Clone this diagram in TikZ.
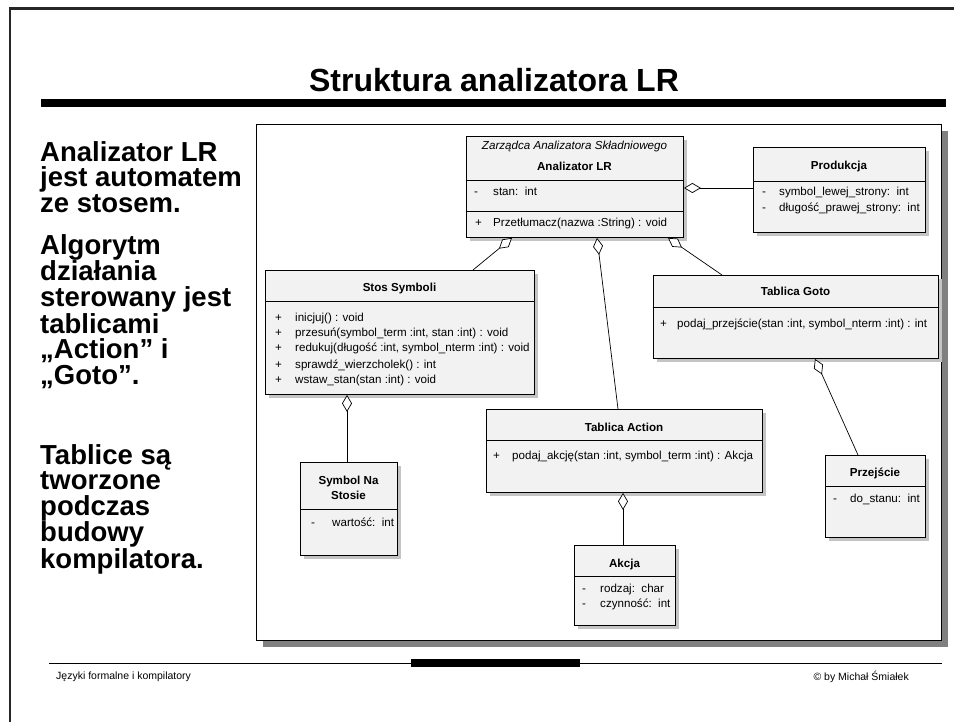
\documentclass[tikz,border=0pt]{standalone}
\usepackage{fontspec}
\setmainfont{Liberation Sans}
\usetikzlibrary{arrows.meta,shadows}
\definecolor{boxfill}{RGB}{242,242,242}
\definecolor{boxshade}{RGB}{196,196,196}
\definecolor{panelshade}{RGB}{128,128,128}
\newcommand\umlfont{\fontsize{11.6}{14}\selectfont}
\newcommand\slidefont{\fontsize{27.5}{25.5}\selectfont\bfseries}

\tikzset{
    umlbox/.style={draw, line width=0.9pt, fill=boxfill, anchor=north west, inner sep=0pt,
        drop shadow={shadow xshift=4pt, shadow yshift=-4pt, fill=boxshade, opacity=1}},
    umltitle/.style={font=\umlfont\bfseries, anchor=base, inner sep=0pt},
    umlitem/.style={font=\umlfont, anchor=base west, inner sep=0pt},
    umlline/.style={line width=0.8pt},
    agg/.style={{Diamond[length=17pt, width=10pt, fill=white]}-, line width=0.7pt},
    slidetext/.style={font=\slidefont, anchor=north west, align=left, inner sep=0pt}
}

\begin{document}
\begin{tikzpicture}[x=1pt, y=-1pt]
    \useasboundingbox (0,0) rectangle (954,722);

    % slide frame and rules
    \draw[line width=2.5pt, black!85] (10,722) -- (10,8.5) -- (954,8.5);
    \node[font=\fontsize{32}{36}\selectfont\bfseries, anchor=base, inner sep=0pt] (title) at (494,92) {Struktura analizatora LR};
    \fill (41,99) rectangle (946,107);
    \draw[line width=0.9pt] (49,663) -- (942,663);
    \fill (411,659) rectangle (580,667);
    \node[font=\fontsize{10.5}{12}\selectfont, anchor=west, inner sep=0pt] (footl) at (56,677) {Języki formalne i kompilatory};
    \node[font=\fontsize{10.5}{12}\selectfont, anchor=east, inner sep=0pt] (footr) at (909,677) {© by Michał Śmiałek};

    % left column
    \node[slidetext] (para1) at (40,141) {Analizator LR\\jest automatem\\ze stosem.};
    \node[slidetext] (para2) at (40,234) {Algorytm\\działania\\sterowany jest\\tablicami\\„Action” i\\„Goto”.};
    \node[slidetext] (para3) at (40,444) {Tablice są\\tworzone\\podczas\\budowy\\kompilatora.};

    % diagram panel
    \node[draw, line width=0.9pt, fill=white, anchor=north west, inner sep=0pt,
        minimum width=685pt, minimum height=516pt,
        drop shadow={shadow xshift=7pt, shadow yshift=-7pt, fill=panelshade, opacity=1}] (panel) at (256,124) {};

    % classes
    \node[umlbox, minimum width=217pt, minimum height=101pt] (ana) at (466,136) {};
    \draw[umlline] ([yshift=-44pt]ana.north west) -- ([yshift=-44pt]ana.north east);
    \draw[umlline] ([yshift=-75pt]ana.north west) -- ([yshift=-75pt]ana.north east);
    \node[font=\umlfont\itshape, anchor=base, inner sep=0pt] at (574.5,150) {Zarządca Analizatora Składniowego};
    \node[umltitle] at (574.5,171) {Analizator LR};
    \node[umlitem] at (474,196) {-};
    \node[umlitem] at (493,196) {stan:\ \ int};
    \node[umlitem] at (475,227) {+};
    \node[umlitem] at (493,227) {Przetłumacz(nazwa :String) : void};

    \node[umlbox, minimum width=172pt, minimum height=85pt] (prod) at (753,147) {};
    \draw[umlline] ([yshift=-34pt]prod.north west) -- ([yshift=-34pt]prod.north east);
    \node[umltitle] at (839,170) {Produkcja};
    \node[umlitem] at (762,196) {-};
    \node[umlitem] at (779,196) {symbol\_lewej\_strony:\ \ int};
    \node[umlitem] at (762,212) {-};
    \node[umlitem] at (779,212) {długość\_prawej\_strony:\ \ int};

    \node[umlbox, minimum width=269pt, minimum height=124pt] (stos) at (265,270) {};
    \draw[umlline] ([yshift=-31pt]stos.north west) -- ([yshift=-31pt]stos.north east);
    \node[umltitle] at (399.5,292) {Stos Symboli};
    \foreach \y/\txt in {322/inicjuj() : void,
        337/{przesuń(symbol\_term :int, stan :int) : void},
        352/{redukuj(długość :int, symbol\_nterm :int) : void},
        368/sprawdź\_wierzcholek() : int,
        384/wstaw\_stan(stan :int) : void} {
        \node[umlitem] at (275,\y) {+};
        \node[umlitem] at (295,\y) {\txt};
    }

    \node[umlbox, minimum width=285pt, minimum height=83pt] (goto) at (653,275) {};
    \draw[umlline] ([yshift=-32pt]goto.north west) -- ([yshift=-32pt]goto.north east);
    \node[umltitle] at (795.5,296) {Tablica Goto};
    \node[umlitem] at (660,327) {+};
    \node[umlitem] at (677,327) {podaj\_przejście(stan :int, symbol\_nterm :int) : int};

    \node[umlbox, minimum width=276pt, minimum height=83pt] (action) at (486,409) {};
    \draw[umlline] ([yshift=-31pt]action.north west) -- ([yshift=-31pt]action.north east);
    \node[umltitle] at (624,431) {Tablica Action};
    \node[umlitem] at (493,459) {+};
    \node[umlitem] at (512,459) {podaj\_akcję(stan :int, symbol\_term :int) : Akcja};

    \node[umlbox, minimum width=100pt, minimum height=82pt] (prz) at (825,455) {};
    \draw[umlline] ([yshift=-31pt]prz.north west) -- ([yshift=-31pt]prz.north east);
    \node[umltitle] at (875,476) {Przejście};
    \node[umlitem] at (833,502) {-};
    \node[umlitem] at (850,502) {do\_stanu:\ \ int};

    \node[umlbox, minimum width=101pt, minimum height=80pt] (akcja) at (574,545) {};
    \draw[umlline] ([yshift=-31pt]akcja.north west) -- ([yshift=-31pt]akcja.north east);
    \node[umltitle] at (624.5,567) {Akcja};
    \node[umlitem] at (582,592) {-};
    \node[umlitem] at (600,592) {rodzaj:\ \ char};
    \node[umlitem] at (582,607) {-};
    \node[umlitem] at (600,607) {czynność:\ \ int};

    \node[umlbox, minimum width=97pt, minimum height=93pt] (sym) at (300,462) {};
    \draw[umlline] ([yshift=-47pt]sym.north west) -- ([yshift=-47pt]sym.north east);
    \node[umltitle] at (348.5,484) {Symbol Na};
    \node[umltitle] at (348.5,499) {Stosie};
    \node[umlitem] at (311,526) {-};
    \node[umlitem] at (332,526) {wartość:\ \ int};

    % aggregations
    \draw[agg] ([xshift=46pt]ana.south west) -- ([xshift=208pt]stos.north west);
    \draw[agg] ([xshift=131pt]ana.south west) -- ([xshift=132pt]action.north west);
    \draw[agg] ([xshift=202pt]ana.south west) -- ([xshift=69pt]goto.north west);
    \draw[agg] ([yshift=-52pt]ana.north east) -- ([yshift=-41pt]prod.north west);
    \draw[agg] ([xshift=82pt]stos.south west) -- ([xshift=47pt]sym.north west);
    \draw[agg] ([xshift=162pt]goto.south west) -- ([xshift=33pt]prz.north west);
    \draw[agg] ([xshift=137pt]action.south west) -- ([xshift=49pt]akcja.north west);
\end{tikzpicture}
\end{document}
